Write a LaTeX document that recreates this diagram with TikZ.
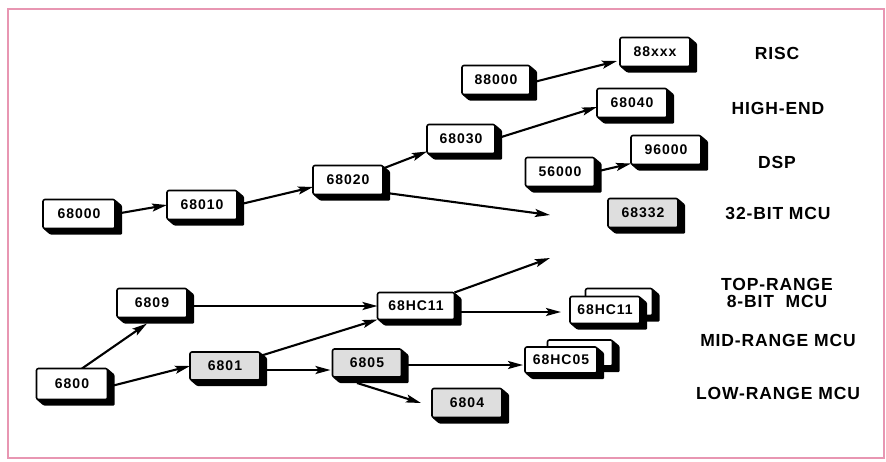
\documentclass[tikz,border=0pt]{standalone}
\usepackage{fontspec}
\newfontfamily\boxfont[LetterSpace=7]{Liberation Sans}
\newfontfamily\labfont[LetterSpace=5]{Liberation Sans}
\usetikzlibrary{arrows.meta}
\pgfdeclarelayer{bglayer}
\pgfdeclarelayer{arrowlayer}
\pgfdeclarelayer{backshadow}
\pgfdeclarelayer{backcard}
\pgfdeclarelayer{shadowlayer}
\pgfsetlayers{bglayer,arrowlayer,backshadow,backcard,shadowlayer,main}
\definecolor{framepink}{RGB}{232,150,178}
\definecolor{chipshade}{RGB}{222,222,222}
\tikzset{
  card/.style={draw, line width=1.6pt, rounded corners=2pt, fill=white,
    minimum width=70pt, minimum height=29pt, inner sep=0pt, outer sep=0pt,
    font={\boxfont\bfseries\fontsize{14}{16}\selectfont}},
  shaded/.style={fill=chipshade},
  arr/.style={line width=2.1pt, -{Stealth[length=15pt,width=8pt,inset=3pt]}},
  lab/.style={font={\labfont\bfseries\fontsize{17.5}{20}\selectfont}, align=center, inner sep=0pt},
}
\newcommand\chipcard[4][]{%
  \node[card,#1] (#2) at (#3) {#4};
  \begin{pgfonlayer}{shadowlayer}
    \fill[rounded corners=1pt] (#2.north east) -- ++(7,6) -- ([shift={(7,6)}]#2.south east)
      -- ([shift={(7,6)}]#2.south west) -- (#2.south west) -- cycle;
  \end{pgfonlayer}}
\newcommand\backchip[4]{%
  \begin{pgfonlayer}{backcard}
    \node[card, minimum width=#3, minimum height=#4] (#1) at (#2) {};
  \end{pgfonlayer}
  \begin{pgfonlayer}{backshadow}
    \fill[rounded corners=1pt] (#1.north east) -- ++(7,6) -- ([shift={(7,6)}]#1.south east)
      -- ([shift={(7,6)}]#1.south west) -- (#1.south west) -- cycle;
  \end{pgfonlayer}}
\begin{document}
\begin{tikzpicture}[x=1pt,y=-1pt]
\useasboundingbox (0,0) rectangle (886,461);
\begin{pgfonlayer}{bglayer}
\fill[white] (0,0) rectangle (886,461);
\draw[framepink, line width=1.3pt] (8,9) rectangle (884,458);
\end{pgfonlayer}

% 68k family
\chipcard[minimum width=72pt]{n68000}{79,214}{68000}
\chipcard{n68010}{202,205}{68010}
\chipcard{n68020}{348,180}{68020}
\chipcard[minimum width=68pt]{n68030}{461,139}{68030}
\chipcard[minimum width=68pt]{n88000}{496,80}{88000}
\chipcard{n88xxx}{655,52}{88xxx}
\chipcard{n68040}{632,103}{68040}
\chipcard{n96000}{666,150}{96000}
\chipcard[minimum width=69pt]{n56000}{560,172}{56000}
\chipcard[shaded]{n68332}{643,213}{68332}
\coordinate (e32) at (550,215);

% 8-bit family
\chipcard{n6809}{152,303}{6809}
\chipcard[minimum width=71pt, minimum height=31pt]{n6800}{72,384}{6800}
\chipcard[shaded, minimum height=28pt]{n6801}{225,366}{6801}
\chipcard[minimum width=77pt, minimum height=27pt]{n68HC11}{416,306}{68HC11}
\chipcard[shaded, minimum width=69pt, minimum height=28pt]{n6805}{367,363}{6805}
\chipcard[shaded]{n6804}{467,403}{6804}
\coordinate (e8) at (550,258);

% stacked chips
\backchip{bHC11}{619,302}{67pt}{27pt}
\chipcard[minimum height=27pt]{s68HC11}{605,310}{68HC11}
\backchip{bHC05}{580,353}{65pt}{26pt}
\chipcard[minimum width=72pt, minimum height=26pt]{s68HC05}{561,360}{68HC05}

% labels
\node[lab] (lrisc) at (777,53) {RISC};
\node[lab] (lhigh) at (778,108) {HIGH-END};
\node[lab] (ldsp) at (777,162) {DSP};
\node[lab] (l32) at (778,213) {32-BIT MCU};
\node[lab] (ltop) at (777,293) {TOP-RANGE\\[-3pt]8-BIT\ \ MCU};
\node[lab] (lmid) at (778,340) {MID-RANGE MCU};
\node[lab] (llow) at (778,393) {LOW-RANGE MCU};

% connectors
\begin{pgfonlayer}{arrowlayer}
\draw[arr] (n68000.east) -- (n68010.west);
\draw[arr] (n68010.east) -- ([shift={(0,7)}]n68020.west);
\draw[arr] ([shift={(0,3)}]n68020.north east) -- ([shift={(0,-2)}]n68030.south west);
\draw[arr] ([shift={(0,-2)}]n68020.south east) -- (e32);
\draw[arr] (n68030.east) -- ([shift={(0,4)}]n68040.west);
\draw[arr] ([shift={(0,3)}]n88000.east) -- ([shift={(-3,9)}]n88xxx.west);
\draw[arr] (n56000.east) -- ([shift={(0,-1)}]n96000.south west);
\draw[arr] ([shift={(10,0)}]n6800.north) -- ([shift={(-5,6)}]n6809.south);
\draw[arr] ([shift={(0,3)}]n6800.east) -- (n6801.west);
\draw[arr] ([shift={(0,3)}]n6809.east) -- (n68HC11.west);
\draw[arr] ([shift={(0,4)}]n6801.north east) -- (n68HC11.south west);
\draw[arr] ([shift={(0,4)}]n6801.east) -- ([shift={(-2,7)}]n6805.west);
\draw[arr] ([shift={(-10,6)}]n6805.south) -- ([shift={(-11,0)}]n6804.west);
\draw[arr] ([shift={(0,2)}]n6805.east) -- ([shift={(-2,5)}]s68HC05.west);
\draw[arr] ([shift={(0,6)}]n68HC11.east) -- ([shift={(-9,2)}]s68HC11.west);
\draw[arr] (n68HC11.north east) -- (e8);
\end{pgfonlayer}
\end{tikzpicture}
\end{document}
